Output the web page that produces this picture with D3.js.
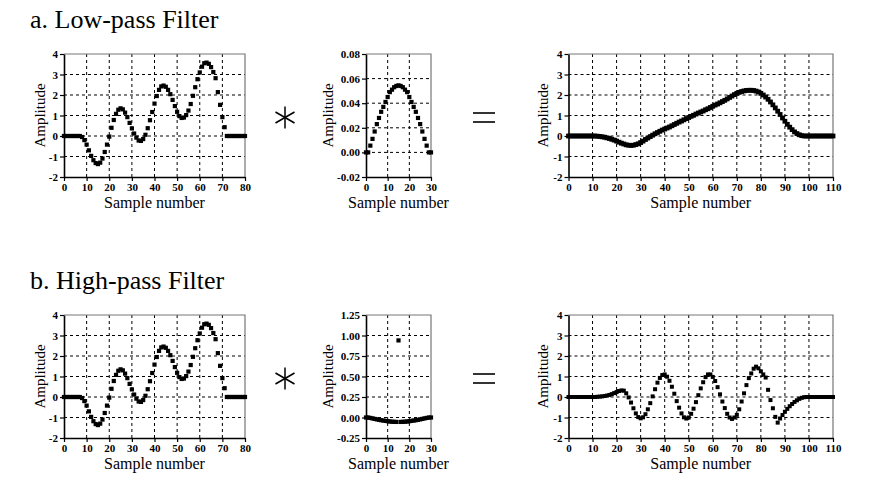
<!DOCTYPE html>
<html>
<head>
<meta charset="utf-8">
<script src="https://cdn.jsdelivr.net/npm/d3@7"></script>
<style>
  body { margin: 0; background: #fff; }
  svg { display: block; }
  .tick text { font-family: "Liberation Serif", "Times New Roman", serif; font-weight: bold; font-size: 11px; }
  .lbl { font-family: "Liberation Serif", "Times New Roman", serif; }
</style>
</head>
<body>
<svg id="chart" width="882" height="489"></svg>
<script>
// input signal, samples 0..80
const inputSignal = [
  0, 0, 0, 0, 0, 0, 0, 0, -0.05, -0.2,
  -0.42, -0.7, -0.97, -1.18, -1.32, -1.37, -1.3, -1.1, -0.78, -0.42,
  -0.03, 0.4, 0.78, 1.08, 1.28, 1.35, 1.3, 1.14, 0.92, 0.64,
  0.37, 0.12, -0.08, -0.22, -0.24, -0.15, 0.06, 0.38, 0.77, 1.17,
  1.58, 1.95, 2.25, 2.42, 2.46, 2.4, 2.25, 2.04, 1.76, 1.46,
  1.18, 0.97, 0.88, 0.9, 1.02, 1.24, 1.56, 1.96, 2.38, 2.77,
  3.1, 3.38, 3.55, 3.58, 3.52, 3.36, 3.12, 2.82, 2.14, 1.52,
  0.92, 0.43, 0, 0, 0, 0, 0, 0, 0, 0,
  0
];

// low-pass filter kernel, samples 0..30
const lowpassKernel = [
  0, 0, 0.0055, 0.011, 0.017, 0.023, 0.028, 0.033, 0.037, 0.041,
  0.045, 0.049, 0.051, 0.053, 0.054, 0.0545, 0.054, 0.053, 0.051, 0.049,
  0.045, 0.041, 0.037, 0.033, 0.028, 0.023, 0.017, 0.011, 0.0055, 0,
  0
];

// high-pass filter kernel, samples 0..30
const highpassKernel = [
  0, 0, -0.0055, -0.011, -0.017, -0.023, -0.028, -0.033, -0.037, -0.041,
  -0.045, -0.049, -0.051, -0.053, -0.054, 0.94, -0.054, -0.053, -0.051, -0.049,
  -0.045, -0.041, -0.037, -0.033, -0.028, -0.023, -0.017, -0.011, -0.0055, 0,
  0
];

// low-pass output, samples 0..110
const lowpassOutput = [
  0, 0, 0, 0, 0, 0, 0, 0, 0, 0,
  0, 0, -0.01, -0.02, -0.04, -0.06, -0.09, -0.12, -0.16, -0.2,
  -0.25, -0.3, -0.35, -0.39, -0.43, -0.45, -0.46, -0.45, -0.42, -0.38,
  -0.32, -0.25, -0.17, -0.1, -0.03, 0.04, 0.11, 0.17, 0.23, 0.29,
  0.34, 0.39, 0.44, 0.5, 0.56, 0.62, 0.68, 0.73, 0.79, 0.85,
  0.9, 0.96, 1.01, 1.07, 1.12, 1.17, 1.22, 1.28, 1.33, 1.39,
  1.45, 1.51, 1.56, 1.62, 1.68, 1.74, 1.81, 1.88, 1.95, 2.02,
  2.08, 2.13, 2.17, 2.2, 2.22, 2.23, 2.23, 2.22, 2.19, 2.15,
  2.08, 2.0, 1.9, 1.79, 1.66, 1.52, 1.37, 1.21, 1.05, 0.88,
  0.72, 0.57, 0.43, 0.31, 0.2, 0.12, 0.06, 0.02, 0, 0,
  0, 0, 0, 0, 0, 0, 0, 0, 0, 0,
  0
];

// high-pass output, samples 0..110
const highpassOutput = [
  0, 0, 0, 0, 0, 0, 0, 0, 0, 0,
  0, 0, 0.01, 0.02, 0.03, 0.05, 0.07, 0.1, 0.14, 0.19,
  0.24, 0.29, 0.32, 0.31, 0.18, -0.02, -0.27, -0.55, -0.8, -0.98,
  -1.04, -0.99, -0.84, -0.6, -0.3, 0.03, 0.38, 0.7, 0.93, 1.07,
  1.1, 0.99, 0.79, 0.5, 0.16, -0.2, -0.52, -0.8, -0.99, -1.05,
  -1.0, -0.82, -0.57, -0.25, 0.09, 0.42, 0.72, 0.97, 1.1, 1.1,
  0.98, 0.78, 0.48, 0.13, -0.22, -0.54, -0.82, -1.0, -1.07, -1.0,
  -0.87, -0.6, -0.22, 0.18, 0.58, 0.92, 1.15, 1.38, 1.48, 1.4,
  1.25, 1.1, 0.95, 0.35, -0.15, -0.55, -0.97, -1.25, -1.05, -0.88,
  -0.72, -0.58, -0.45, -0.34, -0.24, -0.16, -0.09, -0.04, -0.01, 0,
  0, 0, 0, 0, 0, 0, 0, 0, 0, 0,
  0
];

const titles = ["a. Low-pass Filter", "b. High-pass Filter"];
const xLabel = "Sample number";
const yLabel = "Amplitude";

const ticksX80 = [0, 10, 20, 30, 40, 50, 60, 70, 80];
const ticksX30 = [0, 10, 20, 30];
const ticksX110 = [0, 10, 20, 30, 40, 50, 60, 70, 80, 90, 100, 110];
const ticksAmp = [-2, -1, 0, 1, 2, 3, 4];
const ticksLpK = [-0.02, 0, 0.02, 0.04, 0.06, 0.08];
const ticksHpK = [-0.25, 0, 0.25, 0.5, 0.75, 1, 1.25];

const loc = d3.formatLocale({decimal: ".", thousands: ",", grouping: [3], currency: ["", ""], minus: "-"});
const fInt = loc.format("d");
const f2 = loc.format(".2f");

const svg = d3.select("#chart");

function panel(c) {
  const g = svg.append("g");
  const x = d3.scaleLinear().domain(c.xd).range([c.left, c.right]);
  const y = d3.scaleLinear().domain(c.yd).range([c.bottom, c.top]);

  // dashed grid
  g.selectAll(".gx").data(c.xt.slice(1, -1)).enter().append("line")
    .attr("x1", d => x(d)).attr("x2", d => x(d))
    .attr("y1", c.top).attr("y2", c.bottom)
    .attr("stroke", "#000").attr("stroke-width", 1).attr("stroke-dasharray", "3,3");
  g.selectAll(".gy").data(c.yt.slice(1, -1)).enter().append("line")
    .attr("x1", c.left).attr("x2", c.right)
    .attr("y1", d => y(d)).attr("y2", d => y(d))
    .attr("stroke", "#000").attr("stroke-width", 1).attr("stroke-dasharray", "3,3");

  // top/right frame
  g.append("path")
    .attr("d", `M${c.left},${c.top}H${c.right}V${c.bottom}`)
    .attr("fill", "none").attr("stroke", "#777").attr("stroke-width", 1.2);

  const ax = g.append("g").attr("transform", `translate(0,${c.bottom})`)
    .call(d3.axisBottom(x).tickValues(c.xt).tickSize(4).tickSizeOuter(0).tickFormat(fInt));
  const ay = g.append("g").attr("transform", `translate(${c.left},0)`)
    .call(d3.axisLeft(y).tickValues(c.yt).tickSize(4).tickSizeOuter(0).tickFormat(c.fmt));
  [ax, ay].forEach(a => {
    a.select(".domain").attr("stroke-width", 1.6);
    a.selectAll(".tick line").attr("stroke-width", 1.2);
    a.selectAll(".tick text").attr("fill", "#000");
  });
  ax.selectAll(".tick text").attr("y", 6);
  ay.selectAll(".tick text").attr("x", -6);

  // markers
  const s = c.ms;
  g.selectAll(".pt").data(c.data).enter().append("rect")
    .attr("x", (d, i) => x(i) - s / 2)
    .attr("y", d => y(d) - s / 2)
    .attr("width", s).attr("height", s)
    .attr("fill", "#000");

  g.append("text").attr("class", "lbl")
    .attr("x", (c.left + c.right) / 2).attr("y", c.bottom + 31)
    .attr("text-anchor", "middle").attr("font-size", 16)
    .text(xLabel);
  g.append("text").attr("class", "lbl")
    .attr("transform", `translate(${c.ylx},${(c.top + c.bottom) / 2}) rotate(-90)`)
    .attr("text-anchor", "middle").attr("font-size", 15)
    .text(yLabel);
}

const rows = [
  {top: 54, bottom: 177, k: lowpassKernel, kyd: [-0.02, 0.08], kyt: ticksLpK, out: lowpassOutput, outMs: 4.8},
  {top: 315, bottom: 438, k: highpassKernel, kyd: [-0.25, 1.25], kyt: ticksHpK, out: highpassOutput, outMs: 4}
];

rows.forEach((r, ri) => {
  panel({left: 64, right: 245, top: r.top, bottom: r.bottom, xd: [0, 80], yd: [-2, 4],
    xt: ticksX80, yt: ticksAmp, fmt: fInt, data: inputSignal, ms: 4.2, ylx: 45});
  panel({left: 366, right: 431, top: r.top, bottom: r.bottom, xd: [0, 30], yd: r.kyd,
    xt: ticksX30, yt: r.kyt, fmt: f2, data: r.k, ms: 4.2, ylx: 333});
  panel({left: 568.5, right: 833, top: r.top, bottom: r.bottom, xd: [0, 110], yd: [-2, 4],
    xt: ticksX110, yt: ticksAmp, fmt: fInt, data: r.out, ms: r.outMs, ylx: 548});

  svg.append("text").attr("class", "lbl")
    .attr("x", 30).attr("y", r.top - 26)
    .attr("font-size", 26)
    .text(titles[ri]);

  // convolution star
  const cy = (r.top + r.bottom) / 2 + 2;
  const star = svg.append("g").attr("transform", `translate(285,${cy})`);
  [90, 30, -30].forEach(a => {
    const rad = a * Math.PI / 180, L = 11;
    star.append("line")
      .attr("x1", -L * Math.cos(rad)).attr("y1", -L * Math.sin(rad))
      .attr("x2", L * Math.cos(rad)).attr("y2", L * Math.sin(rad))
      .attr("stroke", "#000").attr("stroke-width", 1.5);
  });

  // equals sign
  [-4.5, 4.5].forEach(dy => {
    svg.append("line")
      .attr("x1", 473).attr("x2", 495)
      .attr("y1", cy + dy).attr("y2", cy + dy)
      .attr("stroke", "#000").attr("stroke-width", 1.6);
  });
});
</script>
</body>
</html>
